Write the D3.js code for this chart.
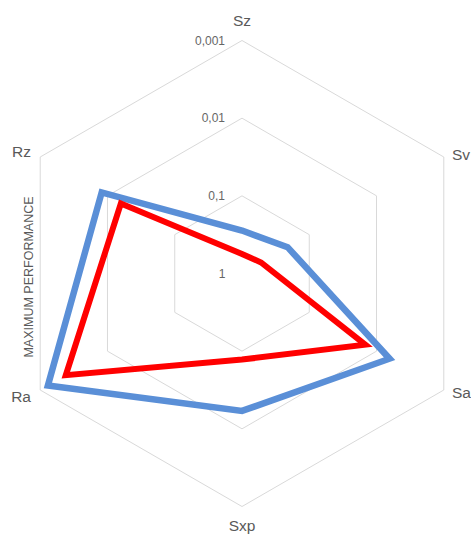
<!DOCTYPE html>
<html>
<head>
<meta charset="utf-8">
<script src="https://cdn.jsdelivr.net/npm/d3@7"></script>
<style>
  body { margin: 0; background: #fff; }
  text { font-family: "Liberation Sans", Arial, sans-serif; }
</style>
</head>
<body>
<svg width="471" height="538"></svg>
<script>
// axes, clockwise from the top
var axes = ["Sz", "Sv", "Sa", "Sxp", "Ra", "Rz"];
var ringValues = [1, 0.1, 0.01, 0.001];
var ringLabels = ["1", "0,1", "0,01", "0,001"];
var blueValues = [0.28, 0.21, 0.0064, 0.017, 0.0013, 0.0082];
var redValues = [0.56, 0.52, 0.0147, 0.078, 0.0024, 0.0158];

var svg = d3.select("svg");
var cx = 242, cy = 273.5, radius = 233;

// log scale, 1 sits in the centre, 0.001 on the outer ring
var r = d3.scaleLog().domain([1, 0.001]).range([0, radius]);
var angle = d3.scalePoint().domain(axes.concat(["_end"])).range([0, 2 * Math.PI]);

function point(name, v) {
    var a = angle(name);
    return [cx + r(v) * Math.sin(a), cy - r(v) * Math.cos(a)];
}

var grid = svg.append("g").attr("class", "grid");
grid.selectAll("polygon").data(ringValues.slice(1)).enter().append("polygon")
    .attr("points", function (v) {
        return axes.map(function (a) { return point(a, v).join(","); }).join(" ");
    })
    .attr("fill", "none")
    .attr("stroke", "#d9d9d9")
    .attr("stroke-width", 1);

grid.selectAll("text").data(ringValues).enter().append("text")
    .attr("x", function (v, i) { return i === 0 ? cx - 20 : cx - 17; })
    .attr("y", function (v) { return cy - r(v); })
    .attr("dy", "0.35em")
    .attr("text-anchor", function (v, i) { return i === 0 ? "middle" : "end"; })
    .attr("font-size", 12)
    .attr("fill", "#666666")
    .text(function (v, i) { return ringLabels[i]; });

// axis names
var labelPos = {
    Sz: [cx, 21, "middle"],
    Sv: [452, 155, "start"],
    Sa: [452, 393, "start"],
    Sxp: [cx, 526, "middle"],
    Ra: [31, 397, "end"],
    Rz: [31, 152, "end"]
};
svg.append("g").selectAll("text").data(axes).enter().append("text")
    .attr("x", function (d) { return labelPos[d][0]; })
    .attr("y", function (d) { return labelPos[d][1]; })
    .attr("dy", "0.35em")
    .attr("text-anchor", function (d) { return labelPos[d][2]; })
    .attr("font-size", 15.5)
    .attr("fill", "#595959")
    .text(function (d) { return d; });

svg.append("text")
    .attr("transform", "translate(29,277) rotate(-90)")
    .attr("dy", "0.35em")
    .attr("text-anchor", "middle")
    .attr("font-size", 12.5)
    .attr("fill", "#595959")
    .text("MAXIMUM PERFORMANCE");

var line = d3.line().curve(d3.curveLinearClosed);

var series = [
    { values: blueValues, color: "#5a8fd7", width: 6.5 },
    { values: redValues, color: "#ff0000", width: 6 }
];

svg.append("g").selectAll("path").data(series).enter().append("path")
    .attr("d", function (s) {
        return line(axes.map(function (a, i) { return point(a, s.values[i]); }));
    })
    .attr("fill", "none")
    .attr("stroke", function (s) { return s.color; })
    .attr("stroke-width", function (s) { return s.width; })
    .attr("stroke-linejoin", "miter");
</script>
</body>
</html>
